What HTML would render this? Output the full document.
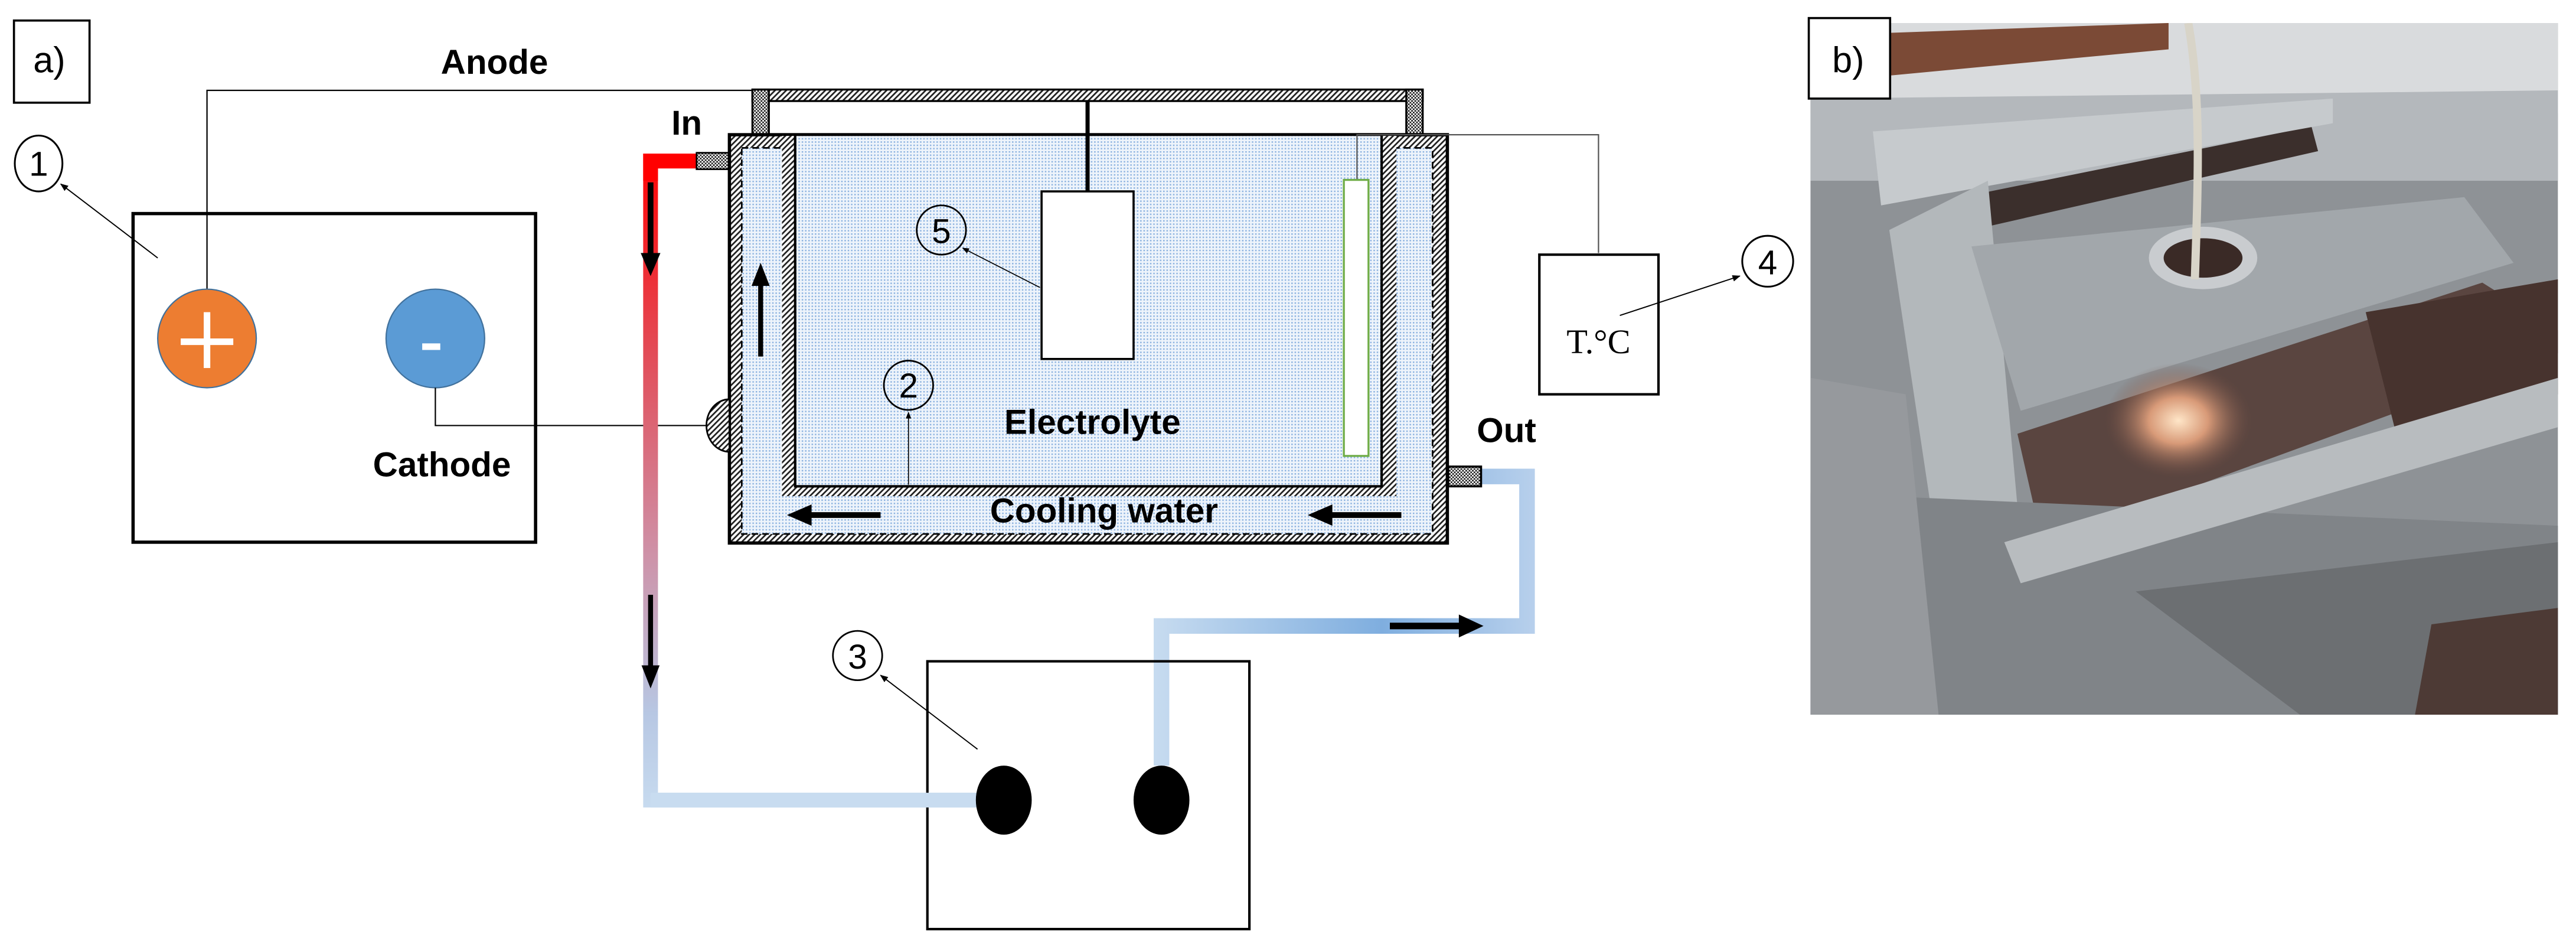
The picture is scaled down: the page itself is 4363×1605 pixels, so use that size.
<!DOCTYPE html>
<html><head><meta charset="utf-8"><style>
html,body{margin:0;padding:0;background:#fff;}
svg{display:block;}
text{font-family:"Liberation Sans",sans-serif;}
</style></head><body>
<svg width="4363" height="1605" viewBox="0 0 1568 577" preserveAspectRatio="none" xmlns="http://www.w3.org/2000/svg">
<defs>
<pattern id="hatch" width="2.4" height="2.4" patternUnits="userSpaceOnUse" patternTransform="rotate(45)">
<rect width="2.4" height="2.4" fill="#fff"/><rect width="1" height="2.4" fill="#222"/></pattern>
<pattern id="cross" width="2" height="2" patternUnits="userSpaceOnUse">
<rect width="2" height="2" fill="#fff"/><rect width="1" height="1" fill="#222"/><rect x="1" y="1" width="1" height="1" fill="#222"/></pattern>
<pattern id="dots" width="2" height="2" patternUnits="userSpaceOnUse">
<rect width="2" height="2" fill="#eef4fb"/><rect width="0.9" height="0.9" fill="#8db3e0"/></pattern>
<linearGradient id="redpipe" x1="0" y1="90" x2="0" y2="495" gradientUnits="userSpaceOnUse">
<stop offset="0" stop-color="#ff0000"/><stop offset="0.3" stop-color="#e34a55"/>
<stop offset="0.6" stop-color="#cf8fa5"/><stop offset="0.85" stop-color="#b7c7e3"/><stop offset="1" stop-color="#c8dcf0"/></linearGradient>
<linearGradient id="bluepipe" x1="700" y1="0" x2="935" y2="0" gradientUnits="userSpaceOnUse">
<stop offset="0" stop-color="#c8dcf0"/><stop offset="0.6" stop-color="#7faedf"/><stop offset="1" stop-color="#b8d0ec"/></linearGradient>
<radialGradient id="glow" cx="0.5" cy="0.5" r="0.5"><stop offset="0" stop-color="#ffe6c8"/><stop offset="0.4" stop-color="#d89a78"/><stop offset="1" stop-color="#6e4c42" stop-opacity="0"/></radialGradient>
<marker id="ah" viewBox="0 0 10 10" refX="9" refY="5" markerWidth="7" markerHeight="7" orient="auto"><path d="M0,1 L10,5 L0,9z" fill="#000"/></marker>
</defs>

<rect x="8.5" y="12.5" width="46" height="50" fill="#fff" stroke="#000" stroke-width="1.3"/>
<text x="30" y="44" font-size="22" text-anchor="middle">a)</text>
<text x="301" y="45" font-size="21" font-weight="bold" text-anchor="middle">Anode</text>

<polyline points="126,177 126,55 458,55" fill="none" stroke="#000" stroke-width="0.8"/>

<rect x="81" y="130" width="245" height="200" fill="none" stroke="#000" stroke-width="2"/>
<ellipse cx="23.5" cy="99.5" rx="14.5" ry="17" fill="#fff" stroke="#000" stroke-width="1.1"/>
<text x="23.5" y="107" font-size="21" text-anchor="middle">1</text>
<line x1="96" y1="157" x2="37" y2="112" stroke="#000" stroke-width="0.7" marker-end="url(#ah)"/>
<circle cx="126" cy="206" r="30" fill="#ed7d31" stroke="#41719c" stroke-width="0.8"/>
<rect x="110" y="206" width="32" height="4" fill="#fff"/><rect x="124" y="190" width="4" height="34" fill="#fff"/>
<circle cx="265" cy="206" r="30" fill="#5b9bd5" stroke="#41719c" stroke-width="0.8"/>
<rect x="257" y="209" width="11" height="4" fill="#fff"/>
<polyline points="265,236 265,259 437,259" fill="none" stroke="#000" stroke-width="0.8"/>
<text x="269" y="290" font-size="21" font-weight="bold" text-anchor="middle">Cathode</text>

<path d="M424,98 L396,98 L396,487 L610,487" fill="none" stroke="url(#redpipe)" stroke-width="9"/>
<path d="M424,98 L396,98 L396,110" fill="none" stroke="#ff0000" stroke-width="9"/>
<path d="M901,290 L929.5,290 L929.5,381 L707,381 L707,466" fill="none" stroke="url(#bluepipe)" stroke-width="9.5"/>
<line x1="396" y1="111" x2="396" y2="156" stroke="#000" stroke-width="3.5"/><path d="M390,154 L402,154 L396,168z"/>
<line x1="396" y1="362" x2="396" y2="407" stroke="#000" stroke-width="3"/><path d="M390.5,405 L401.5,405 L396,419z"/>
<line x1="846" y1="381" x2="890" y2="381" stroke="#000" stroke-width="4"/><path d="M888,374 L903,381 L888,388z"/>
<text x="418" y="82" font-size="21" font-weight="bold" text-anchor="middle">In</text>
<text x="917" y="269" font-size="21" font-weight="bold" text-anchor="middle">Out</text>
<rect x="424" y="93" width="20" height="10" fill="url(#cross)" stroke="#000" stroke-width="1"/>
<rect x="881.5" y="284" width="20" height="12" fill="url(#cross)" stroke="#000" stroke-width="1.3"/>

<rect x="458" y="54.5" width="408" height="7" fill="url(#hatch)" stroke="#000" stroke-width="1.2"/>
<rect x="458" y="54.5" width="10" height="28" fill="url(#cross)" stroke="#000" stroke-width="1.2"/>
<rect x="856" y="54.5" width="10" height="28" fill="url(#cross)" stroke="#000" stroke-width="1.2"/>

<rect x="444" y="82" width="437" height="248.5" fill="url(#hatch)" stroke="#000" stroke-width="2"/>
<rect x="451.5" y="90" width="420.5" height="235" fill="url(#dots)" stroke="#000" stroke-width="1" stroke-dasharray="4,2.5"/>
<rect x="476" y="82" width="374" height="220" fill="url(#hatch)"/>
<rect x="484" y="82" width="357" height="214" fill="url(#dots)" stroke="#000" stroke-width="1.5"/>
<line x1="444" y1="82" x2="881" y2="82" stroke="#000" stroke-width="1.5"/>
<path d="M444,243 A14,16 0 0 0 444,275z" fill="url(#hatch)" stroke="#000" stroke-width="1"/>

<polyline points="826,109 826,82 973,82 973,154" fill="none" stroke="#555" stroke-width="0.8"/>
<rect x="818" y="109.5" width="15" height="168" fill="#fff" stroke="#70ad47" stroke-width="1.2"/>

<line x1="662" y1="61" x2="662" y2="117" stroke="#000" stroke-width="2.5"/>
<rect x="634" y="116.5" width="56" height="102" fill="#fff" stroke="#000" stroke-width="1.3"/>

<circle cx="573" cy="140" r="15" fill="none" stroke="#000" stroke-width="1"/>
<text x="573" y="148" font-size="21" text-anchor="middle">5</text>
<line x1="633" y1="175" x2="586" y2="151" stroke="#000" stroke-width="0.6" marker-end="url(#ah)"/>
<circle cx="553" cy="234.5" r="15" fill="none" stroke="#000" stroke-width="1"/>
<text x="553" y="242" font-size="21" text-anchor="middle">2</text>
<line x1="553" y1="295" x2="553" y2="251" stroke="#000" stroke-width="0.6" marker-end="url(#ah)"/>
<text x="665" y="264" font-size="21" font-weight="bold" text-anchor="middle">Electrolyte</text>
<text x="672" y="318" font-size="21" font-weight="bold" text-anchor="middle">Cooling water</text>

<line x1="463" y1="217" x2="463" y2="172" stroke="#000" stroke-width="3"/><path d="M457.5,174 L468.5,174 L463,160z"/>
<line x1="536" y1="313.5" x2="492" y2="313.5" stroke="#000" stroke-width="3.5"/><path d="M494,307 L494,320 L479,313.5z"/>
<line x1="853" y1="313.5" x2="809" y2="313.5" stroke="#000" stroke-width="3.5"/><path d="M811,307 L811,320 L796,313.5z"/>

<rect x="937" y="155" width="72.5" height="85" fill="#fff" stroke="#000" stroke-width="1.5"/>
<text x="973" y="215" font-size="21" text-anchor="middle" style="font-family:'Liberation Serif',serif">T.°C</text>
<line x1="986" y1="192" x2="1059" y2="168" stroke="#000" stroke-width="0.7" marker-end="url(#ah)"/>
<circle cx="1076" cy="159" r="15.5" fill="#fff" stroke="#000" stroke-width="1.1"/>
<text x="1076" y="167" font-size="21" text-anchor="middle">4</text>

<rect x="564.5" y="402.5" width="196" height="163" fill="none" stroke="#000" stroke-width="1.5"/>
<path d="M396,487 L600,487" stroke="#c8dcf0" stroke-width="9" fill="none"/>
<ellipse cx="611" cy="487" rx="17" ry="21" fill="#000"/>
<ellipse cx="707" cy="487" rx="17" ry="21" fill="#000"/>
<circle cx="522" cy="399" r="15" fill="#fff" stroke="#000" stroke-width="1"/>
<text x="522" y="407" font-size="21" text-anchor="middle">3</text>
<line x1="595" y1="456" x2="536" y2="411" stroke="#000" stroke-width="0.7" marker-end="url(#ah)"/>

<g>
<clipPath id="ph"><rect x="1102" y="14" width="455" height="421"/></clipPath>
<g clip-path="url(#ph)">
<rect x="1102" y="14" width="455" height="421" fill="#8e9296"/>
<rect x="1102" y="14" width="455" height="55" fill="#d9dbdd"/>
<polygon points="1102,60 1557,55 1557,110 1102,110" fill="#b4b8bc"/>
<polygon points="1150,20 1320,14 1320,30 1150,46" fill="#7b4a36"/>
<polygon points="1189,121 1407,77 1411,92 1196,141" fill="#3b2f2c"/>
<polygon points="1140,80 1420,60 1420,75 1145,125" fill="#c6cacd"/>
<polygon points="1150,140 1210,110 1230,330 1180,340" fill="#b3b8bb"/>
<polygon points="1200,150 1500,120 1530,160 1230,250" fill="#a2a7ab"/>
<polygon points="1228,264 1511,172 1557,201 1557,215 1243,330" fill="#5a4540"/>
<polygon points="1440,190 1557,170 1557,240 1460,270" fill="#47332e"/>
<ellipse cx="1326" cy="256" rx="45" ry="35" fill="url(#glow)"/>
<polygon points="1102,300 1557,320 1557,435 1102,435" fill="#808488"/>
<polygon points="1300,360 1557,330 1557,435 1400,435" fill="#6c6f72"/>
<polygon points="1480,380 1557,370 1557,435 1470,435" fill="#4d3a35"/>
<polygon points="1102,230 1160,240 1180,435 1102,435" fill="#96999d"/>
<polygon points="1220,330 1557,230 1557,260 1230,355" fill="#b8bcbf"/>
<ellipse cx="1341" cy="157" rx="33" ry="19" fill="#c9cccf"/>
<ellipse cx="1341" cy="157" rx="24" ry="12" fill="#3a2a26"/>
<path d="M1332,14 C1340,60 1338,110 1336,170" stroke="#d8d4c8" stroke-width="5" fill="none"/>
</g>
<rect x="1101" y="11" width="49.5" height="49" fill="#fff" stroke="#000" stroke-width="1.3"/>
<text x="1125" y="44" font-size="22" text-anchor="middle">b)</text>
</g>
</svg>
</body></html>
